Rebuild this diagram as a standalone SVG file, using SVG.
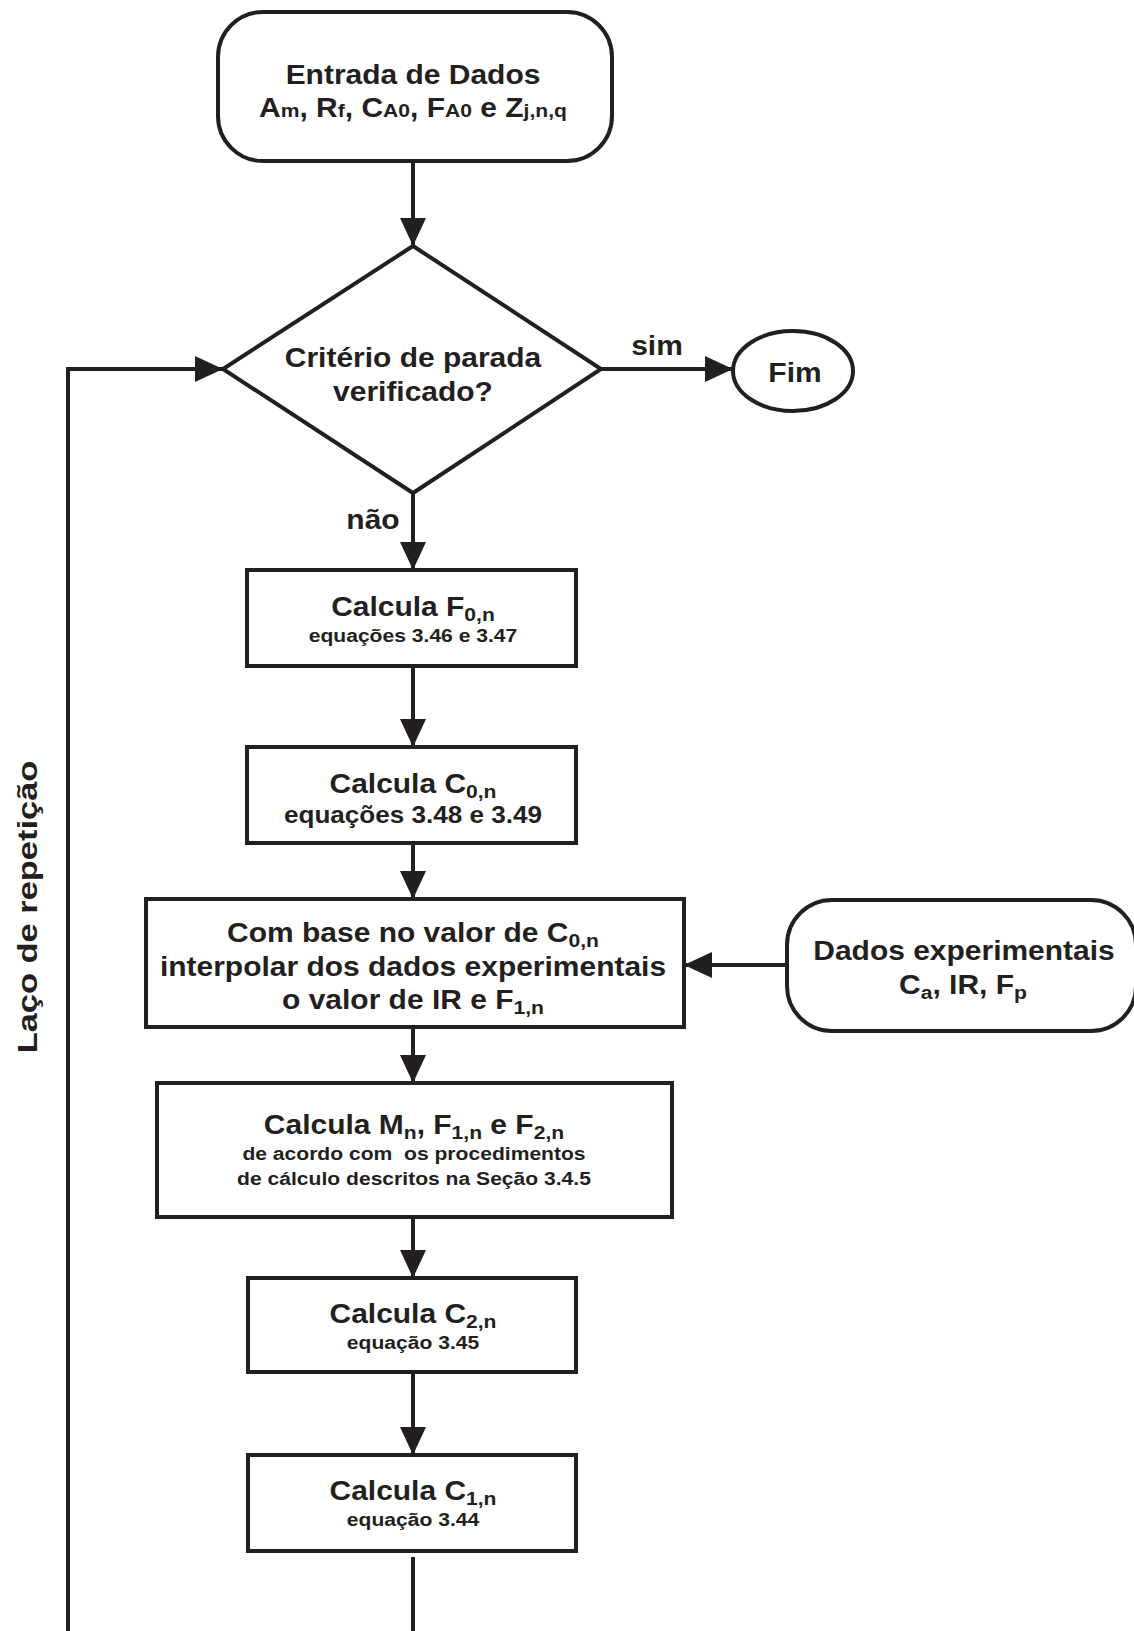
<svg xmlns="http://www.w3.org/2000/svg" width="1134" height="1631" viewBox="0 0 1134 1631">
<style>
.s{fill:#fff;stroke:#231f20;stroke-width:4}
.c{fill:none;stroke:#231f20;stroke-width:4}
.t{font-family:"Liberation Sans",Arial,sans-serif;font-weight:bold;fill:#231f20;text-anchor:middle;white-space:pre}
.m{font-size:27px}
.sm{font-size:19px}
.sb{font-size:19px}
</style>
<defs>
<marker id="ah" markerUnits="userSpaceOnUse" markerWidth="30" markerHeight="28" refX="28" refY="13" orient="auto">
<path d="M0,0 L28,13 L0,26 z" fill="#231f20"/>
</marker>
</defs>
<rect width="1134" height="1631" fill="#fff"/>
<g id="connectors">
<line class="c" x1="413" y1="161" x2="413" y2="246" marker-end="url(#ah)"/>
<line class="c" x1="601" y1="369" x2="733" y2="369" marker-end="url(#ah)"/>
<line class="c" x1="413" y1="493" x2="413" y2="570" marker-end="url(#ah)"/>
<line class="c" x1="413" y1="666" x2="413" y2="747" marker-end="url(#ah)"/>
<line class="c" x1="413" y1="843" x2="413" y2="899" marker-end="url(#ah)"/>
<line class="c" x1="786" y1="965" x2="684" y2="965" marker-end="url(#ah)"/>
<line class="c" x1="413" y1="1027" x2="413" y2="1083" marker-end="url(#ah)"/>
<line class="c" x1="413" y1="1217" x2="413" y2="1278" marker-end="url(#ah)"/>
<line class="c" x1="413" y1="1372" x2="413" y2="1455" marker-end="url(#ah)"/>
<line class="c" x1="413" y1="1557" x2="413" y2="1631"/>
<polyline class="c" points="68,1631 68,369 223,369" marker-end="url(#ah)"/>
<text class="t m" transform="translate(657,355) scale(1.11,1)">sim</text>
<text class="t m" transform="translate(373,529) scale(1.11,1)">não</text>
<text class="t" font-size="28" transform="translate(37,907) rotate(-90) scale(1.23,1)">Laço de repetição</text>
</g>
<g id="entrada">
<rect class="s" x="218" y="12" width="394" height="149" rx="45"/>
<text class="t m" transform="translate(413,84) scale(1.11,1)">Entrada de Dados</text>
<text class="t m" transform="translate(413,117) scale(1.11,1)">A<tspan class="sb">m</tspan>, R<tspan class="sb">f</tspan>, C<tspan class="sb">A0</tspan>, F<tspan class="sb">A0</tspan> e Z<tspan class="sb">j,n,q</tspan></text>
</g>
<g id="criterio">
<polygon class="s" points="413,246 601,369 413,493 223,369"/>
<text class="t m" transform="translate(413,367) scale(1.11,1)">Critério de parada</text>
<text class="t m" transform="translate(413,401) scale(1.11,1)">verificado?</text>
</g>
<g id="fim">
<ellipse class="s" cx="793" cy="371" rx="60" ry="40"/>
<text class="t m" transform="translate(795,382) scale(1.11,1)">Fim</text>
</g>
<g id="calc-f0">
<rect class="s" x="247" y="570" width="329" height="96"/>
<text class="t m" transform="translate(413,616) scale(1.11,1)">Calcula F<tspan class="sb" dy="5">0,n</tspan></text>
<text class="t sm" transform="translate(413,642) scale(1.11,1)">equações 3.46 e 3.47</text>
</g>
<g id="calc-c0">
<rect class="s" x="247" y="747" width="329" height="96"/>
<text class="t m" transform="translate(413,793) scale(1.11,1)">Calcula C<tspan class="sb" dy="5">0,n</tspan></text>
<text class="t" font-size="23.5" transform="translate(413,823) scale(1.11,1)">equações 3.48 e 3.49</text>
</g>
<g id="interpolar">
<rect class="s" x="146" y="899" width="538" height="128"/>
<text class="t m" transform="translate(413,942) scale(1.11,1)">Com base no valor de C<tspan class="sb" dy="5">0,n</tspan></text>
<text class="t m" transform="translate(413,976) scale(1.11,1)">interpolar dos dados experimentais</text>
<text class="t m" transform="translate(413,1009) scale(1.11,1)">o valor de IR e F<tspan class="sb" dy="5">1,n</tspan></text>
</g>
<g id="dados-exp">
<rect class="s" x="787" y="900" width="349" height="131" rx="45"/>
<text class="t m" transform="translate(964,960) scale(1.11,1)">Dados experimentais</text>
<text class="t m" transform="translate(963,994) scale(1.11,1)">C<tspan class="sb" dy="5">a</tspan><tspan dy="-5">, IR, F</tspan><tspan class="sb" dy="5">p</tspan></text>
</g>
<g id="calc-mn">
<rect class="s" x="157" y="1083" width="515" height="134"/>
<text class="t m" transform="translate(414,1134) scale(1.11,1)">Calcula M<tspan class="sb" dy="5">n</tspan><tspan dy="-5">, F</tspan><tspan class="sb" dy="5">1,n</tspan><tspan dy="-5"> e F</tspan><tspan class="sb" dy="5">2,n</tspan></text>
<text class="t sm" transform="translate(414,1160) scale(1.11,1)">de acordo com  os procedimentos</text>
<text class="t sm" transform="translate(414,1185) scale(1.11,1)">de cálculo descritos na Seção 3.4.5</text>
</g>
<g id="calc-c2">
<rect class="s" x="248" y="1278" width="328" height="94"/>
<text class="t m" transform="translate(413,1323) scale(1.11,1)">Calcula C<tspan class="sb" dy="5">2,n</tspan></text>
<text class="t sm" transform="translate(413,1349) scale(1.11,1)">equação 3.45</text>
</g>
<g id="calc-c1">
<rect class="s" x="248" y="1455" width="328" height="96"/>
<text class="t m" transform="translate(413,1500) scale(1.11,1)">Calcula C<tspan class="sb" dy="5">1,n</tspan></text>
<text class="t sm" transform="translate(413,1526) scale(1.11,1)">equação 3.44</text>
</g>
</svg>
